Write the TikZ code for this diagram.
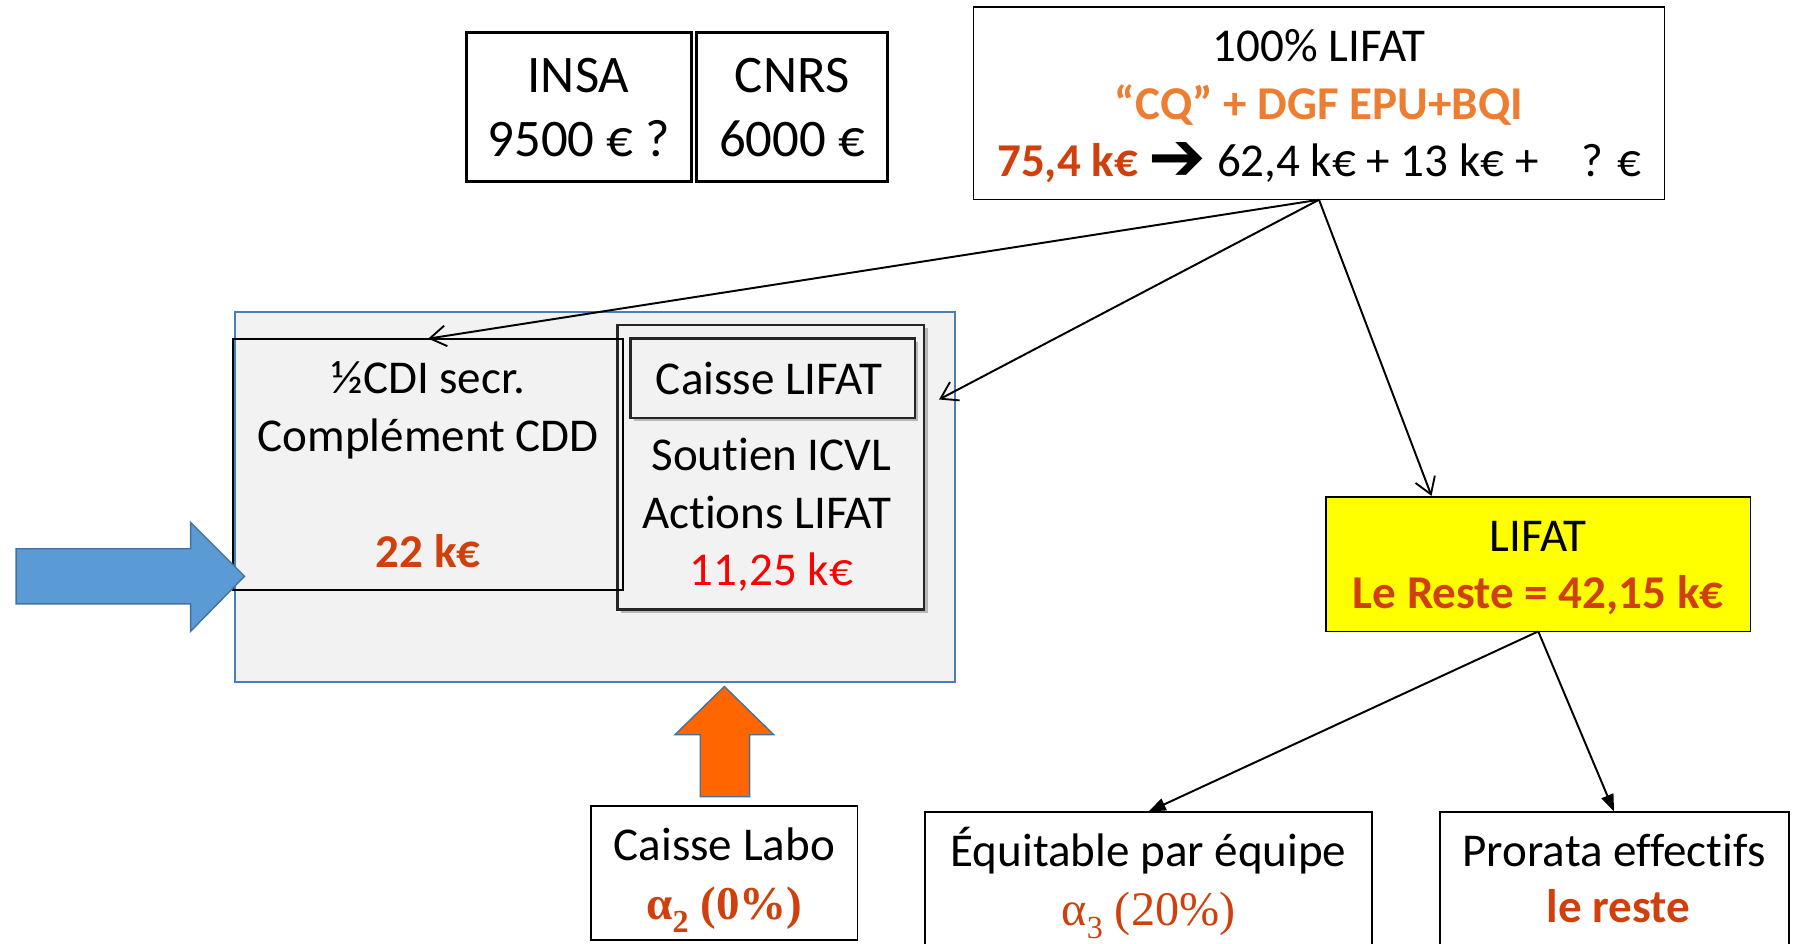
\documentclass[tikz,border=0pt]{standalone}
\usepackage{fontspec}
\setmainfont[Ligatures={TeX,NoCommon}]{Carlito}
\newfontfamily\serifalpha{Liberation Serif}
\newfontfamily\symfont{DejaVu Sans}
\usetikzlibrary{arrows.meta,shadows}
\definecolor{ored}{HTML}{D0400C}
\definecolor{lorange}{HTML}{ED7D31}
\definecolor{pure}{HTML}{FF0000}
\definecolor{bluefill}{HTML}{5B9BD5}
\definecolor{blueline}{HTML}{41719C}
\definecolor{bigline}{HTML}{4A7EBB}
\definecolor{lightbg}{HTML}{F2F2F2}
\definecolor{arrorange}{HTML}{FF6600}
\definecolor{yel}{HTML}{FFFF00}
\newcommand{\fsmain}{\fontsize{41}{50}\selectfont}
\newcommand{\fsbig}{\fontsize{46}{55}\selectfont}
\newcommand{\subidx}[1]{\raisebox{-0.28em}{\fontsize{28}{28}\selectfont #1}}
\begin{document}
\begin{tikzpicture}[x=1pt,y=-1pt,
  boxnode/.style={draw, rectangle, inner sep=0pt, outer sep=0pt},
  txt/.style={inner sep=0pt, anchor=base, font=\fsmain},
  bigtxt/.style={inner sep=0pt, anchor=base, font=\fsbig},
  openarr/.style={line width=1.7pt, -{Straight Barb[length=14pt,width=18pt,line width=1.6pt]}},
  fillarr/.style={line width=1.7pt, -{Triangle[length=15pt,width=11pt]}},
  shad/.style={drop shadow={shadow xshift=3pt, shadow yshift=-3pt, opacity=0.35, fill=black!70}}
]
\useasboundingbox (0,0) rectangle (1568,822.3);
\clip (0,0) rectangle (1568,822.3);

% top boxes
\node[boxnode, line width=2.6pt, minimum width=196pt, minimum height=130pt] (insa) at (504,93) {};
\node[boxnode, line width=2.6pt, minimum width=166pt, minimum height=130pt] (cnrs) at (690,93) {};
\node[bigtxt] (insa1) at (504,81) {INSA};
\node[bigtxt] (insa2) at (504,136) {9500 € ?};
\node[bigtxt] (cnrs1) at (690,81) {CNRS};
\node[bigtxt] (cnrs2) at (690,136) {6000 €};

\node[boxnode, line width=1.3pt, minimum width=602pt, minimum height=168pt] (top) at (1149,90) {};
\node[txt] (top1) at (1149,54) {100\% LIFAT};
\node[txt, text=lorange] (top2) at (1149,104) {\bfseries “CQ” + DGF EPU+BQI};
\node[txt] (top3) at (1149,154) {\textcolor{ored}{\bfseries 75,4 k€} {\symfont\bfseries\fontsize{60}{50}\selectfont\raisebox{-0.06em}{➔}} 62,4 k€ + 13 k€ +\hspace{0.9em}? €};

% big grey area
\node[boxnode, draw=bigline, fill=lightbg, line width=1.8pt, minimum width=627pt, minimum height=322pt] (area) at (518.5,433) {};

% caisse LIFAT boxes
\node[boxnode, draw=black!85, fill=lightbg, line width=2.4pt, minimum width=267pt, minimum height=248pt, shad] (caisseout) at (671.5,407) {};
\node[boxnode, draw=black!85, fill=lightbg, line width=2.3pt, minimum width=248pt, minimum height=69pt, shad] (caissein) at (673,329.5) {};
\node[txt] (cai1) at (670,344) {Caisse LIFAT};
\node[txt] (cai2) at (672,410) {Soutien ICVL};
\node[txt] (cai3) at (668,460) {Actions LIFAT};
\node[txt, text=pure] (cai4) at (672,510) {11,25 k€};

% half CDI box
\node[boxnode, line width=1.5pt, minimum width=340pt, minimum height=219pt] (cdi) at (373,404.5) {};
\node[txt] (cdi1) at (373,343) {½CDI secr.};
\node[txt] (cdi2) at (373,393) {Complément CDD};
\node[txt, text=ored] (cdi3) at (373,494) {\bfseries 22 k€};

% block arrows
\draw[fill=bluefill, draw=blueline, line width=1.2pt]
  (14,478) -- (166,478) -- (166,455) -- (213,502) -- (166,550) -- (166,526) -- (14,526) -- cycle;
\draw[fill=arrorange, draw=blueline, line width=1.2pt]
  (610,694) -- (610,640) -- (588,640) -- (631,598) -- (674,640) -- (653,640) -- (653,694) -- cycle;

% yellow box
\node[boxnode, fill=yel, line width=1.3pt, minimum width=370pt, minimum height=117pt] (yellow) at (1340,491.5) {};
\node[txt] (yel1) at (1340,480) {LIFAT};
\node[txt, text=ored] (yel2) at (1340,530) {\bfseries Le Reste = 42,15 k€};

% bottom boxes
\node[boxnode, line width=1.6pt, minimum width=232pt, minimum height=117pt] (labo) at (631,760.5) {};
\node[txt] (labo1) at (631,750) {Caisse Labo};
\node[txt, text=ored] (labo2) at (631,801) {\serifalpha\bfseries α\subidx{2} (0\%)};

\node[boxnode, line width=1.8pt, minimum width=389pt, minimum height=153pt] (equit) at (1000.5,783.5) {};
\node[txt] (equ1) at (1000.5,755) {Équitable par équipe};
\node[txt, text=ored] (equ2) at (1000.5,806) {\serifalpha\fontsize{42}{50}\selectfont α\subidx{3} (20\%)};

\node[boxnode, line width=1.8pt, minimum width=304pt, minimum height=153pt] (prorata) at (1406,783.5) {};
\node[txt] (pro1) at (1406,755) {Prorata effectifs};
\node[txt, text=ored] (pro2) at (1410,804) {\bfseries le reste};

% connectors
\coordinate (tipcaisse) at (818,348);
\coordinate (tipyellow) at (1247,432);
\draw[openarr] (top.south) -- (cdi.north);
\draw[openarr] (top.south) -- (tipcaisse);
\draw[openarr] (top.south) -- (tipyellow);
\draw[fillarr] (yellow.south) -- (equit.north);
\draw[fillarr] (yellow.south) -- (prorata.north);
\end{tikzpicture}
\end{document}
